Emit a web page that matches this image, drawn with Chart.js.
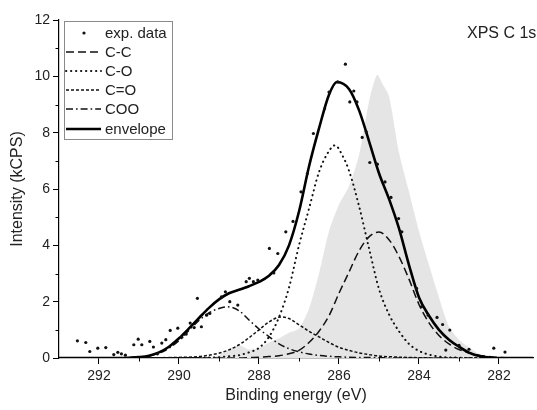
<!DOCTYPE html>
<html>
<head>
<meta charset="utf-8">
<script src="https://cdn.jsdelivr.net/npm/chart.js@4.4.1/dist/chart.umd.min.js"></script>
<style>
  html, body { margin: 0; padding: 0; background: #fff; }
  #wrap { width: 537px; height: 410px; position: relative; }
</style>
</head>
<body>
<div id="wrap"><canvas id="c" width="537" height="410"></canvas></div>
<script>
// ---------- DATA ----------
const xTickValues = [282, 284, 286, 288, 290, 292];
const yTickValues = [0, 2, 4, 6, 8, 10, 12];
const seriesNames = ["exp. data", "C-C", "C-O", "C=O", "COO", "envelope"];
const titleText = "XPS C 1s";
const xTitle = "Binding energy (eV)";
const yTitle = "Intensity (kCPS)";

// experimental data points (binding energy, intensity)
const expEnergy = [292.54, 292.33, 292.23, 292.03, 291.83, 291.63, 291.53, 291.44, 291.34, 291.13,
  291.02, 290.93, 290.73, 290.64, 290.54, 290.43, 290.33, 290.22, 290.03, 289.93,
  289.82, 289.72, 289.62, 289.54, 289.44, 289.31, 289.23, 288.94, 288.84, 288.73,
  288.53, 288.32, 288.24, 288.14, 288.03, 287.74, 287.63, 287.53, 287.33, 287.15,
  286.95, 286.79, 286.64, 286.36, 286.25, 286.03, 285.84, 285.73, 285.63, 285.55,
  285.42, 285.32, 285.23, 285.04, 284.85, 284.70, 284.51, 284.43, 284.06, 283.94,
  283.77, 283.55, 283.41, 283.33, 283.23, 283.00, 282.75, 282.13, 281.85];
const expIntensity = [0.61, 0.55, 0.23, 0.35, 0.37, 0.12, 0.20, 0.15, 0.10, 0.47,
  0.67, 0.47, 0.59, 0.39, 0.15, 0.53, 0.65, 0.98, 1.06, 0.74,
  0.85, 1.24, 1.08, 2.12, 1.11, 1.52, 1.58, 2.17, 2.35, 2.00,
  1.88, 2.71, 2.83, 2.71, 2.77, 3.89, 3.02, 3.71, 4.48, 4.85,
  5.90, 6.55, 7.97, 8.85, 9.44, 9.80, 10.43, 9.09, 9.48, 9.09,
  7.83, 8.03, 6.94, 6.88, 6.25, 5.70, 4.95, 4.48, 2.47, 1.82,
  1.52, 1.44, 1.19, 0.28, 0.99, 0.45, 0.31, 0.35, 0.21];

// C-C component
const ccEnergy = [293, 288.5, 288, 287.75, 287.5, 287.25, 287, 286.75, 286.5, 286.25, 286, 285.75, 285.5,
  285.25, 285, 284.75, 284.5, 284.25, 284, 283.75, 283.5, 283.25, 283, 282.75, 282.5, 282.25, 282, 281.15];
const ccIntensity = [0, 0, 0.03, 0.05, 0.08, 0.15, 0.27, 0.55, 0.95, 1.5, 2.3, 3.05, 3.8,
  4.3, 4.47, 4.2, 3.6, 2.8, 1.9, 1.25, 0.8, 0.5, 0.3, 0.18, 0.1, 0.05, 0.02, 0];

// C-O component
const coEnergy = [293, 289.5, 289, 288.75, 288.5, 288.25, 288, 287.75, 287.5, 287.25, 287, 286.75, 286.5,
  286.25, 286.1, 285.9, 285.75, 285.5, 285.25, 285, 284.75, 284.5, 284.25, 284, 283.75, 283.5, 283, 282.5, 281.15];
const coIntensity = [0, 0.01, 0.03, 0.06, 0.1, 0.2, 0.36, 0.75, 1.45, 2.5, 4.0, 5.3, 6.6,
  7.35, 7.55, 7.15, 6.65, 5.4, 3.9, 2.45, 1.55, 0.95, 0.5, 0.25, 0.12, 0.05, 0.01, 0, 0];

// C=O component
const c2oEnergy = [293, 290.5, 290, 289.5, 289.25, 289, 288.75, 288.5, 288.25, 288, 287.75, 287.45, 287.25,
  287, 286.75, 286.5, 286.25, 286, 285.75, 285.5, 285.25, 285, 284.5, 284, 283, 281.15];
const c2oIntensity = [0, 0.01, 0.02, 0.05, 0.1, 0.17, 0.29, 0.47, 0.72, 1.0, 1.28, 1.46, 1.4,
  1.18, 0.95, 0.75, 0.55, 0.38, 0.27, 0.18, 0.12, 0.07, 0.03, 0.01, 0, 0];

// COO component
const cooEnergy = [293, 291.5, 291.25, 291, 290.75, 290.5, 290.25, 290, 289.75, 289.5, 289.25, 289, 288.8,
  288.5, 288.25, 288, 287.75, 287.5, 287.25, 287, 286.75, 286.5, 286, 285.5, 285, 284.5, 281.15];
const cooIntensity = [0, 0, 0.01, 0.03, 0.07, 0.17, 0.35, 0.62, 0.98, 1.33, 1.6, 1.76, 1.82,
  1.68, 1.35, 1.03, 0.76, 0.5, 0.33, 0.22, 0.14, 0.09, 0.04, 0.02, 0.01, 0, 0];

// envelope
const envEnergy = [293, 292, 291.5, 291.25, 291, 290.75, 290.5, 290.25, 290, 289.75, 289.5, 289.25, 289,
  288.75, 288.5, 288.25, 288, 287.75, 287.5, 287.25, 287, 286.75, 286.5, 286.25, 286.05, 285.75, 285.5,
  285.25, 285, 284.75, 284.5, 284.25, 284, 283.75, 283.5, 283.25, 283, 282.75, 282.5, 282.25, 282, 281.15];
const envIntensity = [0, 0, 0, 0.01, 0.03, 0.08, 0.2, 0.4, 0.7, 1.05, 1.42, 1.78, 2.08,
  2.3, 2.42, 2.55, 2.7, 2.92, 3.3, 4.0, 5.2, 6.8, 8.15, 9.35, 9.8, 9.55, 8.8,
  7.7, 6.56, 5.65, 4.6, 3.3, 2.15, 1.5, 1.0, 0.65, 0.4, 0.19, 0.07, 0.02, 0, 0];

// grey reference spectrum (shaded)
const refEnergy = [289.5, 289, 288.75, 288.5, 288.25, 288, 287.75, 287.5, 287.25, 287, 286.75, 286.5, 286.25,
  286, 285.75, 285.5, 285.25, 285.05, 284.9, 284.75, 284.5, 284.25, 284, 283.75, 283.5, 283.25, 283, 282.75,
  282.5, 282.25, 282];
const refIntensity = [0, 0.1, 0.3, 0.45, 0.3, 0.35, 0.55, 0.7, 0.9, 1.05, 1.75, 3.0, 4.5,
  5.45, 6.1, 7.2, 9.1, 10.05, 9.7, 9.3, 7.3, 5.9, 4.5, 3.3, 2.15, 1.1, 0.65, 0.38,
  0.15, 0.03, 0];

// ---------- helpers ----------
const pts = (xs, ys) => xs.map((x, i) => ({ x: x, y: ys[i] }));
const FONT = "'Liberation Sans', Arial, Helvetica, sans-serif";
const TXT = '#222';

const lineBase = {
  pointRadius: 0,
  fill: false,
  cubicInterpolationMode: 'monotone',
  borderColor: '#111',
  borderWidth: 1.5,
};

const datasets = [
  Object.assign({}, lineBase, {
    label: 'reference', data: pts(refEnergy, refIntensity), borderWidth: 0,
    borderColor: 'rgba(0,0,0,0)', backgroundColor: '#e5e5e5', fill: 'origin', order: 10,
    tension: 0.25, cubicInterpolationMode: 'default'
  }),
  Object.assign({}, lineBase, { label: seriesNames[1], data: pts(ccEnergy, ccIntensity), borderDash: [8, 4], order: 5 }),
  Object.assign({}, lineBase, { label: seriesNames[2], data: pts(coEnergy, coIntensity), borderDash: [0.3, 4.7], borderWidth: 2, borderCapStyle: 'round', order: 5 }),
  Object.assign({}, lineBase, { label: seriesNames[3], data: pts(c2oEnergy, c2oIntensity), borderDash: [3, 2], order: 5 }),
  Object.assign({}, lineBase, { label: seriesNames[4], data: pts(cooEnergy, cooIntensity), borderDash: [7, 3, 1.6, 3], order: 5 }),
  Object.assign({}, lineBase, { label: seriesNames[5], data: pts(envEnergy, envIntensity), borderWidth: 2.6, borderColor: '#000', order: 2 }),
  {
    label: seriesNames[0], data: pts(expEnergy, expIntensity), showLine: false,
    pointRadius: 1.6, pointBackgroundColor: '#111', pointBorderWidth: 0, borderColor: '#111', order: 0
  }
];

// ---------- plugins ----------
const extrasPlugin = {
  id: 'extras',
  afterDraw(chart) {
    const ctx = chart.ctx;
    const xs = chart.scales.x, ys = chart.scales.y;
    const ca = chart.chartArea;
    ctx.save();
    // minor ticks
    ctx.strokeStyle = '#000';
    ctx.lineWidth = 1;
    ctx.setLineDash([]);
    for (let v = 1; v < 12; v += 2) {
      const py = Math.round(ys.getPixelForValue(v)) + 0.5;
      ctx.beginPath(); ctx.moveTo(ca.left - 3.5, py); ctx.lineTo(ca.left, py); ctx.stroke();
    }
    for (let v = 283; v <= 291; v += 2) {
      const px = Math.round(xs.getPixelForValue(v)) + 0.5;
      ctx.beginPath(); ctx.moveTo(px, ca.bottom); ctx.lineTo(px, ca.bottom + 3.5); ctx.stroke();
    }
    // title text
    ctx.fillStyle = TXT;
    ctx.font = '16px ' + FONT;
    ctx.textBaseline = 'middle';
    ctx.textAlign = 'left';
    ctx.fillText(titleText, 467, 34);

    // legend
    const bx = 64.5, by = 21.5, bw = 108, bh = 118;
    ctx.fillStyle = '#fff';
    ctx.fillRect(bx, by, bw, bh);
    ctx.strokeStyle = '#8a8a8a';
    ctx.lineWidth = 1;
    ctx.strokeRect(bx, by, bw, bh);
    const rows = [33, 52, 71, 90, 109, 129];
    const order = [6, 1, 2, 3, 4, 5];
    order.forEach((di, i) => {
      const ds = chart.data.datasets[di];
      const y = rows[i];
      if (di === 6) {
        ctx.fillStyle = '#111';
        ctx.beginPath(); ctx.arc(84, y, 1.6, 0, Math.PI * 2); ctx.fill();
      } else {
        ctx.strokeStyle = ds.borderColor;
        ctx.lineWidth = ds.borderWidth;
        ctx.lineCap = ds.borderCapStyle || 'butt';
        ctx.setLineDash(ds.borderDash || []);
        ctx.beginPath(); ctx.moveTo(66, y); ctx.lineTo(101, y); ctx.stroke();
        ctx.setLineDash([]);
        ctx.lineCap = 'butt';
      }
      ctx.fillStyle = TXT;
      ctx.font = '15px ' + FONT;
      ctx.textBaseline = 'middle';
      ctx.textAlign = 'left';
      ctx.fillText(ds.label, 105, y + 1);
    });
    ctx.restore();
  }
};

new Chart(document.getElementById('c'), {
  type: 'line',
  data: { datasets: datasets },
  options: {
    responsive: false,
    animation: false,
    devicePixelRatio: 1,
    layout: { padding: { top: 20, right: 0, left: 0, bottom: 0 } },
    plugins: { legend: { display: false }, tooltip: { enabled: false } },
    scales: {
      x: {
        type: 'linear', reverse: true, min: 281.15, max: 293.0,
        afterFit(s) { s.height = 52; },
        afterBuildTicks(s) { s.ticks = xTickValues.map(v => ({ value: v })); },
        ticks: { includeBounds: false, color: TXT, font: { family: FONT, size: 14 }, padding: 4, maxRotation: 0,
          callback: v => String(v) },
        grid: { drawOnChartArea: false, drawTicks: true, tickLength: 6, tickColor: '#000', tickWidth: 1 },
        border: { display: true, color: '#000', width: 1.2 },
        title: { display: true, text: xTitle, color: TXT, font: { family: FONT, size: 16 }, padding: { top: 0, bottom: 5 } }
      },
      y: {
        type: 'linear', min: 0, max: 12,
        afterFit(s) { s.width = 59; },
        afterBuildTicks(s) { s.ticks = yTickValues.map(v => ({ value: v })); },
        ticks: { color: TXT, font: { family: FONT, size: 14 }, padding: 3, callback: v => String(v) },
        grid: { drawOnChartArea: false, drawTicks: true, tickLength: 6, tickColor: '#000', tickWidth: 1 },
        border: { display: true, color: '#000', width: 1.2 },
        title: { display: true, text: yTitle, color: TXT, font: { family: FONT, size: 16 }, padding: { top: 8, bottom: 0 } }
      }
    }
  },
  plugins: [extrasPlugin]
});
</script>
</body>
</html>
